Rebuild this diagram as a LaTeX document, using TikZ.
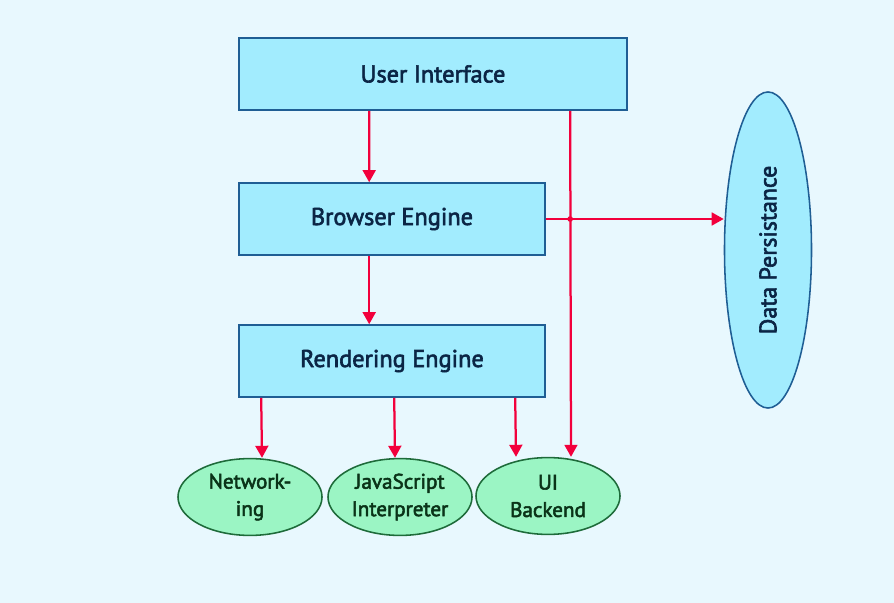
\documentclass[tikz,border=0pt]{standalone}
\usepackage{fontspec}
\setmainfont{PT Sans}
\newfontfamily\labelfont{PT Sans}[FakeBold=2.5]
\usetikzlibrary{positioning,arrows.meta,shapes.geometric,calc}
\definecolor{bgcyan}{HTML}{E8F8FE}
\definecolor{boxcyan}{HTML}{A2ECFE}
\definecolor{boxblue}{HTML}{1F5E94}
\definecolor{inkblue}{HTML}{0B2545}
\definecolor{ovalgreen}{HTML}{9BF5C4}
\definecolor{ovaledge}{HTML}{1E6B3A}
\definecolor{inkgreen}{HTML}{0A3318}
\definecolor{arrowred}{HTML}{F2003C}

\begin{document}
\begin{tikzpicture}[x=0.025cm,y=-0.025cm,
      box/.style={draw=boxblue,fill=boxcyan,line width=1.1pt,minimum height=1.8cm,
        inner sep=0pt,text=inkblue,font=\labelfont\fontsize{17.3}{20}\selectfont},
      oval/.style={ellipse,draw=ovaledge,fill=ovalgreen,line width=1.1pt,minimum width=3.6cm,
        minimum height=1.92cm,inner sep=0pt,align=center,text=inkgreen,font=\labelfont\fontsize{15}{19.5}\selectfont},
      link/.style={->,draw=arrowred,line width=1.6pt},
      >={Triangle[length=3mm,width=3.2mm]}]
      \fill[bgcyan] (0,0) rectangle (894,603);
      \node[box,minimum width=9.7cm]  (ui)      at (433,74)  {User Interface};
      \node[box,minimum width=7.65cm] (browser) at (392,219) {Browser Engine};
      \node[box,minimum width=7.65cm] (render)  at (392,361) {Rendering Engine};
      \node[ellipse,draw=boxblue,fill=boxcyan,line width=1.1pt,minimum width=2.175cm,minimum height=7.9cm,
        inner sep=0pt,text=inkblue,font=\labelfont\fontsize{17}{20}\selectfont] (data) at (768,250)
        {\rotatebox{90}{Data Persistance}};
      \node[oval] (net) at (250,497) {Network-\\ing};
      \node[oval] (js)  at (400,497) {JavaScript\\Interpreter};
      \node[oval] (uib) at (548,496) {UI\\Backend};
      \coordinate (uiline) at ($(ui.south west)+(332,0)$);
      \draw[link] ($(ui.south west)+(131,0)$) -- ($(browser.north west)+(131,0)$);
      \draw[link] ($(browser.south west)+(131,0)$) -- ($(render.north west)+(131,0)$);
      \draw[link] (uiline) -- ($(uib.north)+(23,0)$);
      \draw[link] (browser.east) -- (browser.east -| data.west);
      \fill[arrowred] (uiline |- browser.east) circle (2pt);
      \draw[link] ($(render.south west)+(23,0)$) -- ($(net.north)+(12,0)$);
      \draw[link] ($(render.south west)+(156,0)$) -- ($(js.north)+(-5,0)$);
      \draw[link] ($(render.south west)+(277,0)$) -- ($(uib.north)+(-32,0)$);
    \end{tikzpicture}
\end{document}
